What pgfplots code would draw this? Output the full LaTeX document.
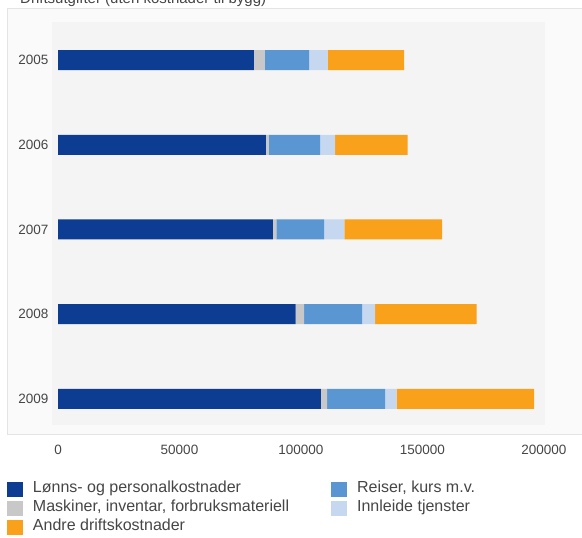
\documentclass[border=0pt]{standalone}
\usepackage{fontspec}
\setmainfont{Liberation Sans}
\usepackage{pgfplots}
\pgfplotsset{compat=1.18}
\definecolor{cdark}{RGB}{12,61,146}
\definecolor{cgrey}{RGB}{200,200,200}
\definecolor{cmed}{RGB}{90,150,210}
\definecolor{clight}{RGB}{197,216,240}
\definecolor{corange}{RGB}{249,161,27}
\definecolor{outerbg}{RGB}{250,250,250}
\definecolor{innerbg}{RGB}{244,244,244}
\definecolor{framec}{RGB}{228,228,228}
\definecolor{txtc}{RGB}{70,70,70}
\begin{document}
\begin{tikzpicture}[x=1pt,y=1pt]
\fill[white] (-52,-113) rectangle (530,425);
\filldraw[fill=outerbg, draw=framec, line width=1pt] (-44,-10) rectangle (531,416);
\node[anchor=base west, font=\fontsize{15}{18}\selectfont, text=txtc, inner sep=0pt] at (-32,421) {Driftsutgifter (uten kostnader til bygg)};
\begin{axis}[
  at={(0,0)}, anchor=south west,
  scale only axis, width=493pt, height=403pt,
  xbar stacked, bar width=20pt,
  xmin=-2500, xmax=200500,
  ymin=-0.45, ymax=4.31, y dir=reverse,
  axis background/.style={fill=innerbg},
  axis line style={draw=none},
  tick style={draw=none},
  xtick={0,50000,100000,150000,200000},
  xticklabels={0,50000,100000,150000,200000},
  scaled x ticks=false,
  ytick={0,1,2,3,4},
  yticklabels={2005,2006,2007,2008,2009},
  ticklabel style={font=\fontsize{13.5}{16}\selectfont, text=txtc},
  xticklabel style={yshift=-17pt},
  yticklabel style={xshift=0pt},
  legend columns=2,
  legend cell align=left,
  legend image code/.code={\fill[#1] (0pt,-7.5pt) rectangle (16pt,7.5pt);},
  legend style={draw=none, fill=none, inner sep=0pt, outer sep=0pt,
    at={(axis description cs:-0.0913,-0.1414)}, anchor=north west,
    font=\fontsize{16}{19}\selectfont, text=txtc,
    row sep=4pt, column sep=0pt,
    nodes={inner sep=0pt, text height=11pt, text depth=4pt},
    /tikz/every odd column/.append style={column sep=10pt},
    /tikz/every even column/.append style={column sep=42pt}},
]
\addlegendimage{fill=cdark, draw=none}\addlegendentry{Lønns- og personalkostnader}
\addlegendimage{fill=cmed, draw=none}\addlegendentry{Reiser, kurs m.v.}
\addlegendimage{fill=cgrey, draw=none}\addlegendentry{Maskiner, inventar, forbruksmateriell}
\addlegendimage{fill=clight, draw=none}\addlegendentry{Innleide tjenster}
\addlegendimage{fill=corange, draw=none}\addlegendentry{Andre driftskostnader}
\addplot[fill=cdark, draw=none] coordinates {(80600,0) (85600,1) (88400,2) (97800,3) (108200,4)};
\addplot[fill=cgrey, draw=none] coordinates {(4600,0) (1200,1) (1500,2) (3500,3) (2600,4)};
\addplot[fill=cmed, draw=none] coordinates {(18200,0) (21100,1) (19600,2) (23900,3) (23900,4)};
\addplot[fill=clight, draw=none] coordinates {(7600,0) (6200,1) (8400,2) (5300,3) (4700,4)};
\addplot[fill=corange, draw=none] coordinates {(31500,0) (29800,1) (40200,2) (41800,3) (56600,4)};
\end{axis}
\pgfresetboundingbox
\path[use as bounding box] (-52,-113) rectangle (530,425);
\end{tikzpicture}
\end{document}
